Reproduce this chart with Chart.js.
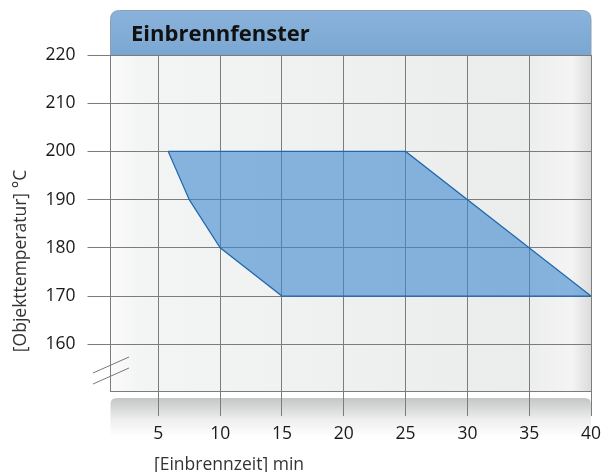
<!DOCTYPE html>
<html>
<head>
<meta charset="utf-8">
<script src="https://cdn.jsdelivr.net/npm/chart.js@4/dist/chart.umd.min.js"></script>
<style>
  html, body { margin: 0; padding: 0; background: #ffffff; }
  #wrap { width: 616px; height: 472px; }
</style>
</head>
<body>
<div id="wrap"><canvas id="myChart" width="616" height="472"></canvas></div>
<script>
// Einbrennfenster: Zeit (min) gegen Objekttemperatur (°C)
var chartTitle = 'Einbrennfenster';
var xTitle = '[Einbrennzeit] min';
var yTitle = '[Objekttemperatur] °C';

var windowTime = [5.8, 7.5, 10, 15, 40, 25, 5.8];
var windowTemp = [200, 190, 180, 170, 170, 200, 200];

var xTicks = [5, 10, 15, 20, 25, 30, 35, 40];
var yTicks = [160, 170, 180, 190, 200, 210, 220];

var FONT = "'Open Sans', 'Noto Sans', sans-serif";

function roundedTop(ctx, x, y, w, h, r) {
    ctx.beginPath();
    ctx.moveTo(x, y + h);
    ctx.lineTo(x, y + r);
    ctx.quadraticCurveTo(x, y, x + r, y);
    ctx.lineTo(x + w - r, y);
    ctx.quadraticCurveTo(x + w, y, x + w, y + r);
    ctx.lineTo(x + w, y + h);
    ctx.closePath();
}

var decorPlugin = {
    id: 'decor',
    beforeDraw: function (chart) {
        var ctx = chart.ctx;
        var a = chart.chartArea;
        ctx.save();

        // plot background
        var g = ctx.createLinearGradient(a.left, 0, a.right, 0);
        g.addColorStop(0, '#fbfbfb');
        g.addColorStop(0.06, '#f3f4f4');
        g.addColorStop(0.85, '#ebecec');
        g.addColorStop(0.96, '#f4f4f4');
        g.addColorStop(1, '#dcdcdc');
        ctx.fillStyle = g;
        ctx.fillRect(a.left, a.top, a.right - a.left, a.bottom - a.top);

        // title band
        var tg = ctx.createLinearGradient(0, 10, 0, a.top);
        tg.addColorStop(0, '#8ab3db');
        tg.addColorStop(1, '#7aa7d2');
        roundedTop(ctx, a.left, 10.5, a.right - a.left, a.top - 10.5, 9);
        ctx.fillStyle = tg;
        ctx.fill();
        ctx.strokeStyle = '#8c9fb3';
        ctx.lineWidth = 1;
        ctx.stroke();

        ctx.fillStyle = '#111111';
        ctx.font = 'bold 22px ' + FONT;
        ctx.textAlign = 'left';
        ctx.textBaseline = 'alphabetic';
        ctx.fillText(chartTitle, 131, 41);

        // grey band under the plot
        var bg = ctx.createLinearGradient(0, a.bottom + 7, 0, a.bottom + 46);
        bg.addColorStop(0, '#c4c5c6');
        bg.addColorStop(0.55, '#eeeeee');
        bg.addColorStop(1, '#ffffff');
        roundedTop(ctx, a.left, a.bottom + 7, a.right - a.left, 40, 6);
        ctx.fillStyle = bg;
        ctx.fill();

        ctx.restore();
    },
    afterDraw: function (chart) {
        var ctx = chart.ctx;
        ctx.save();

        // axis break marks
        ctx.strokeStyle = '#777777';
        ctx.lineWidth = 1;
        ctx.beginPath();
        ctx.moveTo(93, 373);
        ctx.lineTo(129, 357);
        ctx.moveTo(93, 384);
        ctx.lineTo(129, 368);
        ctx.stroke();

        // axis titles
        ctx.fillStyle = '#333333';
        ctx.font = '17.5px ' + FONT;
        ctx.textAlign = 'left';
        ctx.textBaseline = 'middle';
        ctx.fillText(xTitle, 154, 465);

        ctx.translate(21, 261);
        ctx.rotate(-Math.PI / 2);
        ctx.textAlign = 'center';
        ctx.fillText(yTitle, 0, 0);
        ctx.restore();
    }
};

function buildData() {
    var points = [];
    windowTime.forEach((t, i) => points.push({ x: t, y: windowTemp[i] }));
    return points;
}

var ctx = document.getElementById('myChart').getContext('2d');

var chart = new Chart(ctx, {
    type: 'scatter',
    data: {
        datasets: [{
            data: buildData(),
            showLine: true,
            tension: 0,
            fill: 'shape',
            backgroundColor: 'rgba(62, 136, 206, 0.6)',
            borderColor: '#1f68ad',
            borderWidth: 1.2,
            pointRadius: 0
        }]
    },
    options: {
        responsive: false,
        animation: false,
        devicePixelRatio: 1,
        layout: { padding: { top: 55, right: 25, left: 0, bottom: 0 } },
        plugins: {
            legend: { display: false },
            tooltip: { enabled: false }
        },
        scales: {
            x: {
                type: 'linear',
                min: 1.13,
                max: 40,
                afterBuildTicks: function (scale) {
                    scale.ticks = xTicks.map(v => ({ value: v }));
                },
                afterFit: function (scale) { scale.height = 81; },
                grid: { color: '#7c7c7c', lineWidth: 1, tickLength: 25 },
                border: { color: '#7c7c7c' },
                ticks: {
                    padding: 8,
                    color: '#1a1a1a',
                    font: { family: FONT, size: 17.5 },
                    maxRotation: 0
                }
            },
            y: {
                min: 150.3,
                max: 220,
                afterBuildTicks: function (scale) {
                    scale.ticks = yTicks.map(v => ({ value: v }));
                },
                afterFit: function (scale) { scale.width = 110.5; },
                grid: { color: '#7c7c7c', lineWidth: 1, tickLength: 23 },
                border: { color: '#7c7c7c' },
                ticks: {
                    padding: 12,
                    color: '#1a1a1a',
                    font: { family: FONT, size: 17.5 }
                }
            }
        }
    },
    plugins: [decorPlugin]
});
</script>
</body>
</html>
